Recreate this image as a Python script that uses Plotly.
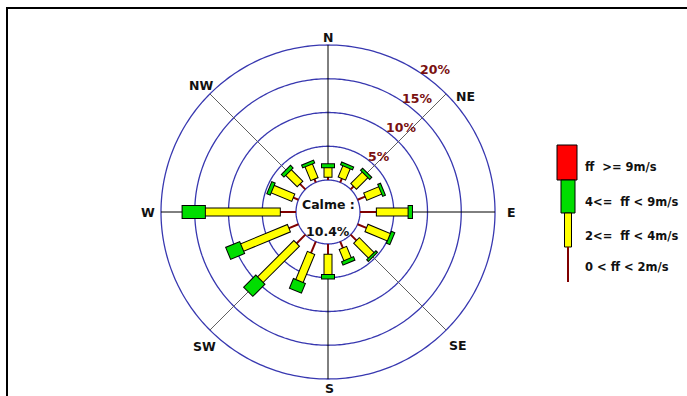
import numpy as np
import plotly.graph_objects as go

# ---- data -------------------------------------------------------------
directions = [0, 22.5, 45, 67.5, 90, 112.5, 135, 157.5,
              180, 202.5, 225, 247.5, 270, 292.5, 315, 337.5]

# frequency (%) of each wind-speed class per direction
ff_0_2 = [0.5, 0.7, 0.7, 1.3, 2.5, 1.5, 1.3, 1.1,
          1.6, 1.9, 1.9, 1.6, 2.4, 0.9, 1.2, 0.6]
ff_2_4 = [1.4, 1.8, 2.4, 2.4, 4.7, 3.6, 3.1, 1.8,
          3.0, 4.5, 7.6, 7.5, 11.1, 3.3, 2.4, 2.2]
ff_4_9 = [0.45, 0.3, 0.3, 0.3, 0.5, 0.4, 0.2, 0.4,
          0.5, 1.4, 2.4, 2.1, 3.3, 0.4, 0.4, 0.3]
ff_9 = [0.0] * 16

calm_pct = 10.4
ring_values = [5, 10, 15, 20]
compass_names = ["N", "NE", "E", "SE", "S", "SW", "W", "NW"]
compass_angles = [0, 45, 90, 135, 180, 225, 270, 315]
class_labels = ["ff\u00a0 >= 9m/s", "4<=\u00a0 ff < 9m/s",
                "2<=\u00a0 ff < 4m/s", "0 < ff < 2m/s"]

# ---- styles -----------------------------------------------------------
W, H = 687, 396
FONT = "DejaVu Sans"
BROWN = "#800000"
YELLOW = "#ffff00"
GREEN = "#00dd00"
RED = "#ff0000"
RING = "#3838b0"
PAD = 0.15  # outline overhang at segment ends, in %

cx, cy = 328, 212          # rose centre in pixels
R0, K = 32, 6.75           # calm-circle radius (px) and px per %
R_LO, R_HI = -0.25, 20.5   # radial range, a little wider than the rings
R_OUT = R0 + K * R_HI
HOLE = (R0 + K * R_LO) / R_OUT


def px(x):
    return x / W


def py(y):
    return 1 - y / H


cum1 = np.array(ff_0_2)
cum2 = cum1 + np.array(ff_2_4)
cum3 = cum2 + np.array(ff_4_9)
cum4 = cum3 + np.array(ff_9)


def segments(starts, ends, pad=0.0):
    r, th = [], []
    for d, a, b in zip(directions, starts, ends):
        if b - a <= 1e-9:
            continue
        r += [max(a - pad, 0), b + pad, None]
        th += [d, d, None]
    return r, th


fig = go.Figure()

# rings (calm circle + percentage circles)
circ = np.linspace(0, 360, 361)
for rv in [0] + ring_values:
    fig.add_trace(go.Scatterpolar(r=[rv] * len(circ), theta=circ, mode="lines",
                                  line=dict(color=RING, width=1.3),
                                  hoverinfo="skip"))

# direction axes
for ang in compass_angles:
    col = "#000000" if ang % 90 == 0 else "#606060"
    fig.add_trace(go.Scatterpolar(r=[0, ring_values[-1]], theta=[ang, ang], mode="lines",
                                  line=dict(color=col, width=1), hoverinfo="skip"))

# 0-2 m/s : thin brown stem
r, th = segments(np.zeros(16), cum1)
fig.add_trace(go.Scatterpolar(r=r, theta=th, mode="lines", connectgaps=False,
                              line=dict(color=BROWN, width=2), hoverinfo="skip"))

# other classes : outlined boxes
for starts, ends, col, w in [(cum1, cum2, YELLOW, 7), (cum2, cum3, GREEN, 12),
                             (cum3, cum4, RED, 18)]:
    r, th = segments(starts, ends, PAD)
    if r:
        fig.add_trace(go.Scatterpolar(r=r, theta=th, mode="lines", connectgaps=False,
                                      line=dict(color="#000000", width=w + 2),
                                      hoverinfo="skip"))
    r, th = segments(starts, ends)
    if r:
        fig.add_trace(go.Scatterpolar(r=r, theta=th, mode="lines", connectgaps=False,
                                      line=dict(color=col, width=w), hoverinfo="skip"))

fig.update_layout(
    width=W, height=H,
    margin=dict(l=0, r=0, t=0, b=0),
    paper_bgcolor="white",
    showlegend=False,
    polar=dict(
        domain=dict(x=[px(cx - R_OUT), px(cx + R_OUT)], y=[py(cy + R_OUT), py(cy - R_OUT)]),
        hole=HOLE,
        bgcolor="white",
        radialaxis=dict(range=[R_LO, R_HI], visible=False),
        angularaxis=dict(rotation=90, direction="clockwise", showgrid=False,
                         showline=False, showticklabels=False, ticks=""),
    ),
)


def label(x, y, text, size, color="#111", xanchor="center"):
    return dict(x=px(x), y=py(y), xref="paper", yref="paper", showarrow=False,
                xanchor=xanchor, yanchor="middle", text=text,
                font=dict(family=FONT, size=size, color=color))


ann = []
# compass labels (pixel positions around the rose)
label_pos = {"N": (328, 37), "NE": (466, 96), "E": (511, 212), "SE": (458, 345),
             "S": (329, 388), "SW": (204, 346), "W": (148, 212), "NW": (201, 85)}
for name in compass_names:
    x, y = label_pos[name]
    ann.append(label(x, y, f"<b>{name}</b>", 12.5))

# percentage labels
pct_pos = [(379, 156), (401, 127), (417, 98), (435, 69)]
for rv, (x, y) in zip(ring_values, pct_pos):
    ann.append(label(x, y, f"<b>{rv}%</b>", 12.5, color="#7a1010"))

# calm
ann.append(label(cx, 205, "<b>Calme :</b>", 12.5))
ann.append(label(cx, 231, f"<b>{calm_pct}%</b>", 12.5))

# legend texts
for lab, y in zip(class_labels, [167, 202, 236, 267]):
    ann.append(label(583, y, f"<b>{lab}</b>", 11.5, xanchor="left"))

shapes = [
    # frame
    dict(type="rect", xref="paper", yref="paper", x0=px(7), x1=1.1, y0=-0.1, y1=py(8),
         line=dict(color="black", width=2)),
    # legend key
    dict(type="rect", xref="paper", yref="paper", x0=px(557), x1=px(577),
         y0=py(180), y1=py(145), fillcolor=RED, line=dict(color="black", width=1)),
    dict(type="rect", xref="paper", yref="paper", x0=px(561), x1=px(575),
         y0=py(213), y1=py(180), fillcolor=GREEN, line=dict(color="black", width=1)),
    dict(type="rect", xref="paper", yref="paper", x0=px(564.5), x1=px(571.5),
         y0=py(247), y1=py(213), fillcolor=YELLOW, line=dict(color="black", width=1)),
    dict(type="line", xref="paper", yref="paper", x0=px(568), x1=px(568),
         y0=py(282), y1=py(247), line=dict(color=BROWN, width=2)),
]

fig.update_layout(annotations=ann, shapes=shapes)
fig.write_html("out.html")
